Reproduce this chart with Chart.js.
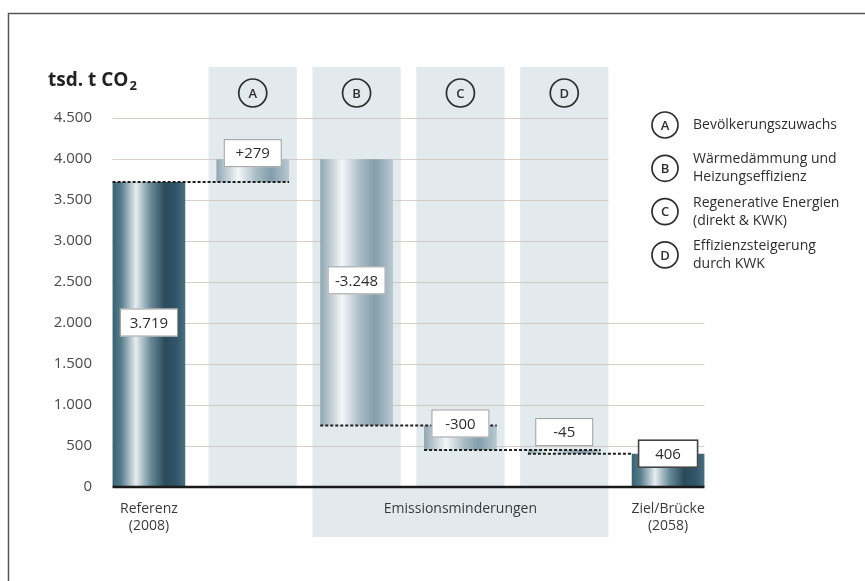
<!DOCTYPE html>
<html>
<head>
<meta charset="utf-8">
<script src="https://cdn.jsdelivr.net/npm/chart.js@4/dist/chart.umd.min.js"></script>
<style>
  html, body { margin: 0; padding: 0; background: #fff; }
  #wrap { width: 865px; height: 581px; position: relative; }
</style>
</head>
<body>
<div id="wrap"><canvas id="waterfall"></canvas></div>
<script>
// -------- DATA -------- //
var categories = ['Referenz', 'A', 'B', 'C', 'D', 'Ziel'];
var xLabels = [['Referenz', '(2008)'], '', '', 'Emissionsminderungen', '', ['Ziel/Brücke', '(2058)']];
var steps = [3719, 279, -3248, -300, -45];   // start value, then changes A-D
var target = 406;                             // Ziel/Brücke 2058
var valueLabels = ['3.719', '+279', '-3.248', '-300', '-45', '406'];
var yTicks = [0, 500, 1000, 1500, 2000, 2500, 3000, 3500, 4000, 4500];
var legendLetters = ['A', 'B', 'C', 'D'];
var legendTexts = [
    ['Bevölkerungszuwachs'],
    ['Wärmedämmung und', 'Heizungseffizienz'],
    ['Regenerative Energien', '(direkt & KWK)'],
    ['Effizienzsteigerung', 'durch KWK']
];

// floating bar ranges built from the steps
var ranges = [];
var total = 0;
steps.forEach(function (s, i) {
    var start = i === 0 ? 0 : total;
    total += s;
    ranges.push([Math.min(start, total), Math.max(start, total)]);
});
ranges.push([0, target]);

var FONT = '"Open Sans", "Noto Sans", sans-serif';
var TXT = '#2e2e2e';
var BAR_PCT = 0.7;
var COL_PCT = 0.85;

function fmt(v) {
    if (v < 1000) return String(v);
    return Math.floor(v / 1000) + '.' + String(v % 1000).padStart(3, '0');
}

function barColor(c) {
    var chart = c.chart;
    var area = chart.chartArea;
    if (!area) return '#8aa1ae';
    var cw = area.width / categories.length;
    var cx = chart.scales.x.getPixelForValue(c.dataIndex);
    var l = cx - cw * BAR_PCT / 2, r = cx + cw * BAR_PCT / 2;
    var g = chart.ctx.createLinearGradient(l, 0, r, 0);
    var dark = c.dataIndex === 0 || c.dataIndex === categories.length - 1;
    if (dark) {
        g.addColorStop(0, '#3a6171');
        g.addColorStop(0.12, '#587d8c');
        g.addColorStop(0.32, '#e6edf0');
        g.addColorStop(0.52, '#6a8c9a');
        g.addColorStop(0.72, '#2a4a59');
        g.addColorStop(0.88, '#31566a');
        g.addColorStop(1, '#4b6f7f');
    } else {
        g.addColorStop(0, '#8fa6b3');
        g.addColorStop(0.3, '#f4f7f8');
        g.addColorStop(0.55, '#a8bbc5');
        g.addColorStop(0.75, '#839dab');
        g.addColorStop(1, '#b9c9d1');
    }
    return g;
}

function circleLetter(ctx, cx, cy, r, letter) {
    ctx.beginPath();
    ctx.arc(cx, cy, r, 0, Math.PI * 2);
    ctx.lineWidth = 1.7;
    ctx.strokeStyle = '#2e2e2e';
    ctx.stroke();
    ctx.fillStyle = TXT;
    ctx.font = '600 13px ' + FONT;
    ctx.textAlign = 'center';
    ctx.textBaseline = 'middle';
    ctx.fillText(letter, cx, cy + 1);
}

var decor = {
    id: 'decor',
    beforeDraw: function (chart) {
        var ctx = chart.ctx, a = chart.chartArea, x = chart.scales.x, y = chart.scales.y;
        var cw = a.width / categories.length;
        var colHalf = cw * COL_PCT / 2;
        var barHalf = cw * BAR_PCT / 2;
        var colTop = a.top - 51;
        ctx.save();

        // frame
        ctx.strokeStyle = '#555';
        ctx.lineWidth = 1.5;
        ctx.beginPath();
        ctx.moveTo(8.5, chart.height);
        ctx.lineTo(8.5, 13.5);
        ctx.lineTo(chart.width, 13.5);
        ctx.stroke();

        // shaded columns A-D
        ctx.fillStyle = '#e3eaee';
        for (var i = 1; i <= 4; i++) {
            var cx = x.getPixelForValue(i);
            ctx.fillRect(cx - colHalf, colTop, colHalf * 2, a.bottom - colTop);
        }
        var bl = x.getPixelForValue(2) - colHalf, br = x.getPixelForValue(4) + colHalf;
        ctx.fillRect(bl, a.bottom, br - bl, 50);

        // gridlines
        var gl = x.getPixelForValue(0) - barHalf;
        var gr = x.getPixelForValue(categories.length - 1) + barHalf;
        ctx.strokeStyle = 'rgba(205,190,182,0.75)';
        ctx.lineWidth = 1;
        yTicks.forEach(function (v) {
            if (v === 0) return;
            var yy = Math.round(y.getPixelForValue(v)) + 0.5;
            ctx.beginPath();
            ctx.moveTo(gl, yy);
            ctx.lineTo(v >= 2500 ? br : gr, yy);
            ctx.stroke();
        });

        // circled letters above columns
        for (var j = 1; j <= 4; j++) {
            circleLetter(ctx, x.getPixelForValue(j), colTop + 26, 14, legendLetters[j - 1]);
        }
        ctx.restore();
    },
    afterDatasetsDraw: function (chart) {
        var ctx = chart.ctx, a = chart.chartArea, x = chart.scales.x, y = chart.scales.y;
        var cw = a.width / categories.length;
        var barHalf = cw * BAR_PCT / 2;
        ctx.save();

        // x axis line
        var gl = x.getPixelForValue(0) - barHalf;
        var gr = x.getPixelForValue(categories.length - 1) + barHalf;
        ctx.strokeStyle = '#1a1a1a';
        ctx.lineWidth = 2.5;
        ctx.beginPath();
        ctx.moveTo(gl, a.bottom);
        ctx.lineTo(gr, a.bottom);
        ctx.stroke();

        // dashed connectors
        ctx.strokeStyle = '#1e1e1e';
        ctx.lineWidth = 2;
        ctx.setLineDash([3, 2]);
        [0, 2, 3, 4].forEach(function (i) {
            var end = steps[i] >= 0 ? ranges[i][1] : ranges[i][0];
            var yy = y.getPixelForValue(end);
            ctx.beginPath();
            ctx.moveTo(x.getPixelForValue(i) - barHalf, yy);
            ctx.lineTo(x.getPixelForValue(i + 1) + (i === 4 ? -barHalf : barHalf), yy);
            ctx.stroke();
        });
        ctx.setLineDash([]);

        // value boxes
        var lift = [0, 6, 0, 2, 18, 0];
        valueLabels.forEach(function (t, i) {
            var top = y.getPixelForValue(ranges[i][1]);
            var bot = y.getPixelForValue(ranges[i][0]);
            var cy = (bot - top) > 120 ? (top + bot) / 2 - 12 : top - lift[i];
            var cx = x.getPixelForValue(i);
            var w = i === 5 ? 60 : 58, h = 28;
            ctx.fillStyle = '#fff';
            ctx.fillRect(cx - w / 2, cy - h / 2, w, h);
            ctx.strokeStyle = i === 5 ? '#444' : '#999';
            ctx.lineWidth = i === 5 ? 1.6 : 1;
            ctx.strokeRect(cx - w / 2 + 0.5, cy - h / 2 + 0.5, w - 1, h - 1);
            ctx.fillStyle = TXT;
            ctx.font = '15px ' + FONT;
            ctx.textAlign = 'center';
            ctx.textBaseline = 'middle';
            ctx.fillText(t, cx, cy + 1);
        });

        // legend
        var lx = a.right - 55, ly = a.top + 7;
        legendLetters.forEach(function (l, i) {
            var cy = ly + i * 43.3;
            circleLetter(ctx, lx, cy, 13, l);
            ctx.fillStyle = TXT;
            ctx.font = '14px ' + FONT;
            ctx.textAlign = 'left';
            ctx.textBaseline = 'middle';
            var lines = legendTexts[i];
            lines.forEach(function (s, k) {
                var off = lines.length === 1 ? 0 : (k === 0 ? -9 : 9);
                ctx.fillText(s, lx + 28, cy + off);
            });
        });

        // axis title
        ctx.fillStyle = '#222';
        ctx.textAlign = 'left';
        ctx.textBaseline = 'alphabetic';
        ctx.font = 'bold 19px ' + FONT;
        var tx = 48, ty = a.top - 32;
        var main = 'tsd. t CO';
        ctx.fillText(main, tx, ty);
        var mw = ctx.measureText(main).width;
        ctx.font = 'bold 13px ' + FONT;
        ctx.fillText('2', tx + mw + 1, ty + 4);
        ctx.restore();
    }
};

var ctx1 = document.getElementById('waterfall').getContext('2d');

new Chart(ctx1, {
    type: 'bar',
    data: {
        labels: xLabels,
        datasets: [{
            data: ranges,
            backgroundColor: barColor,
            borderWidth: 0,
            barPercentage: BAR_PCT,
            categoryPercentage: 1
        }]
    },
    options: {
        responsive: true,
        maintainAspectRatio: false,
        animation: false,
        layout: { padding: { top: 118, right: 145, bottom: 34, left: 0 } },
        plugins: {
            legend: { display: false },
            tooltip: { enabled: false }
        },
        scales: {
            x: {
                grid: { display: false, drawTicks: false },
                border: { display: false },
                ticks: {
                    color: '#3a3a3a',
                    font: { family: FONT, size: 14 },
                    padding: 14,
                    maxRotation: 0,
                    autoSkip: false
                },
                afterFit: function (s) { s.height = 60; }
            },
            y: {
                min: 0,
                max: 4500,
                grid: { display: false, drawTicks: false },
                border: { display: false },
                ticks: {
                    stepSize: 500,
                    color: '#4a4a4a',
                    font: { family: FONT, size: 15 },
                    padding: 5,
                    callback: function (v) { return fmt(v); }
                },
                afterFit: function (s) { s.width = 97; }
            }
        }
    },
    plugins: [decor]
});
</script>
</body>
</html>
